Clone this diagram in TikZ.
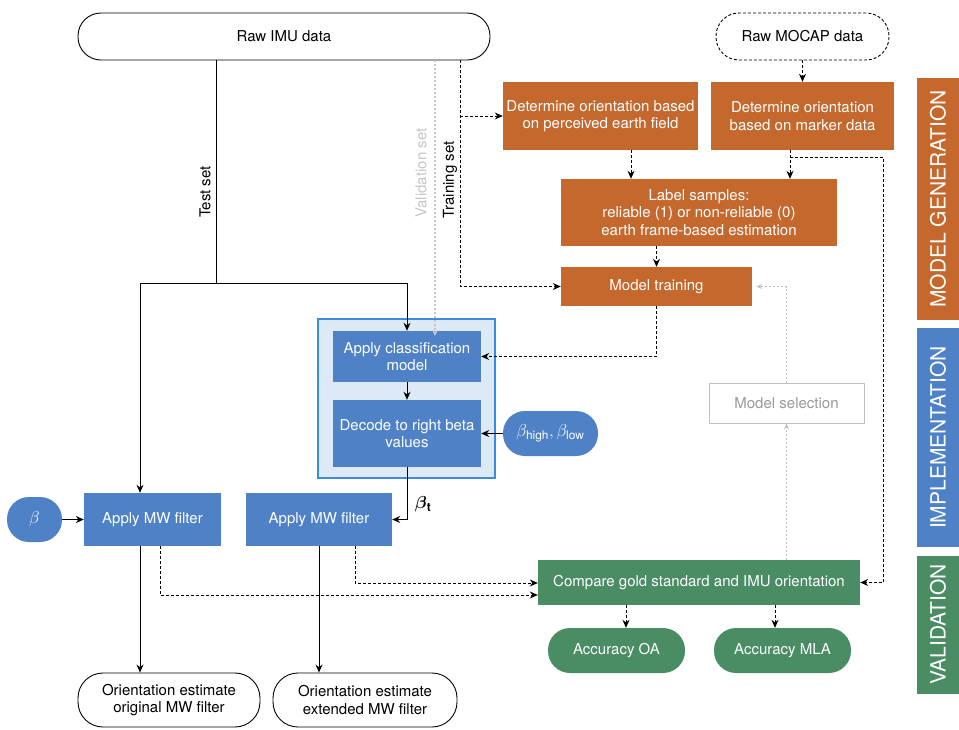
\documentclass[tikz,border=0pt]{standalone}
\usepackage{amsmath}
\usepackage{fontspec}
\setmainfont{TeX Gyre Heros}
\usetikzlibrary{arrows.meta}
\definecolor{orng}{HTML}{C4682E}
\definecolor{blu}{HTML}{4F81C7}
\definecolor{grn}{HTML}{4A8C64}
\definecolor{lblu}{HTML}{DCEAF7}
\definecolor{cblu}{HTML}{3D8BE0}
\tikzset{
  base/.style={inner sep=0pt, align=center, font=\fontsize{15}{17.5}\selectfont},
  obox/.style={base, fill=orng, text=white},
  bbox/.style={base, fill=blu, text=white},
  gbox/.style={base, fill=grn, text=white},
  wpill/.style={base, draw=black, line width=0.9pt, rounded corners=23pt, fill=white},
  side/.style={inner sep=0pt, rotate=90, text=white, font=\fontsize{21}{24}\selectfont, minimum height=42pt},
  tip/.style={-{Stealth[length=8pt,width=7pt]}},
  ln/.style={draw=black, line width=0.9pt},
  dsh/.style={draw=black, line width=0.9pt, dash pattern=on 3pt off 2pt},
  gdot/.style={draw=gray!45, line width=2pt, dash pattern=on 2pt off 2pt},
  gthin/.style={draw=gray!50, line width=0.8pt, dash pattern=on 2pt off 2pt},
  lbl/.style={inner sep=0pt, font=\fontsize{15}{17}\selectfont, rotate=90}
}
\begin{document}
\begin{tikzpicture}[x=1pt,y=-1pt]
\useasboundingbox (0,0) rectangle (959,729);
\fill[white] (0,0) rectangle (959,729);
% top inputs
\node[wpill, minimum width=412pt, minimum height=47pt] (imu) at (284,36.5) {Raw IMU data};
\node[wpill, dash pattern=on 3pt off 2pt, minimum width=173pt, minimum height=47pt] (mocap) at (802.5,36.5) {Raw MOCAP data};
% model generation
\node[obox, minimum width=195pt, minimum height=68pt] (o1) at (600.5,116) {Determine orientation based\\on perceived earth field};
\node[obox, minimum width=183pt, minimum height=68pt] (o2) at (802.5,116) {Determine orientation\\based on marker data};
\node[obox, minimum width=276pt, minimum height=67pt] (lab) at (699,212.5) {Label samples:\\reliable (1) or non-reliable (0)\\earth frame-based estimation};
\node[obox, minimum width=191pt, minimum height=39pt] (train) at (656.5,286.5) {Model training};
\node[base, draw=gray!50, line width=0.8pt, text=gray!80, fill=white, minimum width=155pt, minimum height=40pt] (sel) at (786.5,403) {Model selection};
% implementation
\node[draw=cblu, fill=lblu, line width=1.3pt, minimum width=177pt, minimum height=159pt, inner sep=0pt] (cont) at (406.5,398.5) {};
\node[bbox, minimum width=148pt, minimum height=51pt] (cls) at (407,356.5) {Apply classification\\model};
\node[bbox, minimum width=148pt, minimum height=67pt] (dec) at (407,433.5) {Decode to right beta\\values};
\node[bbox, rounded corners=22pt, minimum width=95pt, minimum height=45pt] (bhl) at (550.5,433.5) {\fontsize{17}{17}\selectfont$\beta_{\mathrm{high}},\beta_{\mathrm{low}}$};
\node[bbox, rounded corners=22pt, minimum width=55pt, minimum height=45pt] (beta) at (34.5,519.5) {\fontsize{17}{17}\selectfont$\beta$};
\node[bbox, minimum width=137pt, minimum height=53pt] (mw1) at (152.5,519.5) {Apply MW filter};
\node[bbox, minimum width=146pt, minimum height=53pt] (mw2) at (319,519.5) {Apply MW filter};
% validation
\node[gbox, minimum width=322pt, minimum height=45pt] (cmp) at (699,582.5) {Compare gold standard and IMU orientation};
\node[gbox, rounded corners=22pt, minimum width=137pt, minimum height=45pt] (oa) at (616.5,650.5) {Accuracy OA};
\node[gbox, rounded corners=22pt, minimum width=137pt, minimum height=45pt] (mla) at (782.5,650.5) {Accuracy MLA};
% outputs
\node[wpill, rounded corners=25pt, minimum width=182pt, minimum height=54pt] (est1) at (169,700) {Orientation estimate\\original MW filter};
\node[wpill, rounded corners=25pt, minimum width=184pt, minimum height=54pt] (est2) at (365,700) {Orientation estimate\\extended MW filter};
% side bars
\node[side, fill=orng, minimum width=242pt] (sA) at (938,199) {MODEL GENERATION};
\node[side, fill=blu, minimum width=219pt] (sB) at (938,437.5) {IMPLEMENTATION};
\node[side, fill=grn, minimum width=138pt] (sC) at (938,624.5) {VALIDATION};
% coordinates
\coordinate (j) at (216,283);
\coordinate (jl) at (140,283);
\coordinate (jr) at (407,283);
\coordinate (vx) at (435,0);
\coordinate (tx) at (460,0);
\coordinate (c1) at (631,0);
\coordinate (c2) at (790,157);
\coordinate (rx) at (883,157);
\coordinate (d1) at (160,595);
\coordinate (d2) at (355,583);
\coordinate (a1) at (626,0);
\coordinate (a2) at (775,0);
% test set
\draw[ln] (imu.south -| j) -- (j);
\draw[ln] (jl) -- (jr);
\draw[ln,tip] (jl) -- (jl |- mw1.north);
\draw[ln,tip] (jr) -- (cls.north);
\node[lbl] (tl) at (205,192) {Test set};
% validation set
\draw[gdot,-{Stealth[length=6pt,width=6pt]}] (imu.south -| vx) -- ([yshift=-5pt]vx |- cls.north);
\node[lbl, text=gray!45] (vl) at (421,173) {Validation set};
% training set
\draw[dsh,tip] (imu.south -| tx) -- (tx |- train.west) -- (train.west);
\draw[dsh,tip] (tx |- o1.west) -- (o1.west);
\node[lbl] (trl) at (450,180) {Training set};
% model generation flow
\draw[dsh,tip] (mocap.south) -- (o2.north);
\draw[dsh,tip] (o1.south -| c1) -- (lab.north -| c1);
\draw[dsh,tip] (o2.south -| c2) -- (lab.north -| c2);
\draw[dsh,tip] (c2) -- (rx) -- (rx |- cmp.east) -- (cmp.east);
\draw[dsh,tip] (lab.south -| train.north) -- (train.north);
\draw[dsh,tip] (train.south) -- (train.south |- cls.east) -- (cls.east);
% model selection
\draw[gthin,-{Stealth[length=6pt,width=5pt]}] (cmp.north -| sel.south) -- (sel.south);
\draw[gthin,-{Stealth[length=6pt,width=5pt]}] (sel.north) -- (sel.north |- train.east) -- ([xshift=4pt]train.east);
% implementation flow
\draw[ln,tip] (cls.south) -- (dec.north);
\draw[ln,tip] (bhl.west) -- (dec.east);
\draw[ln,tip] (dec.south) -- (dec.south |- mw2.east) -- (mw2.east);
\node[inner sep=0pt, font=\fontsize{17}{17}\selectfont] (bt) at (423,504) {$\boldsymbol{\beta}_{\mathbf{t}}$};
\draw[ln,tip] (beta.east) -- (mw1.west);
\draw[ln,tip] (mw1.south -| jl) -- (est1.north -| jl);
\draw[ln,tip] (mw2.south) -- (mw2.south |- est2.north);
% to validation
\draw[dsh,tip] (mw1.south -| d1) -- (d1) -- (d1 -| cmp.west);
\draw[dsh,tip] (mw2.south -| d2) -- (d2) -- (d2 -| cmp.west);
\draw[dsh,tip] (cmp.south -| a1) -- (oa.north -| a1);
\draw[dsh,tip] (cmp.south -| a2) -- (mla.north -| a2);
\end{tikzpicture}
\end{document}
